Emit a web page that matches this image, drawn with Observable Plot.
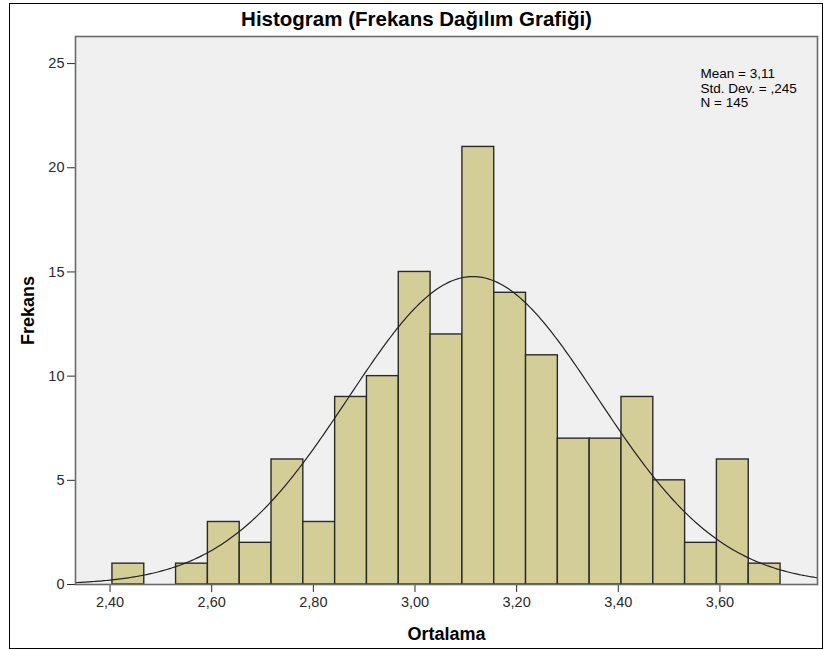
<!DOCTYPE html>
<html><head><meta charset="utf-8">
<script src="https://cdn.jsdelivr.net/npm/d3@7"></script>
<script src="https://cdn.jsdelivr.net/npm/@observablehq/plot@0.6"></script>
<style>
body{margin:0;background:#fff;}
#wrap{position:relative;width:824px;height:650px;overflow:hidden;}
#border{position:absolute;left:9px;top:3px;width:814px;height:646px;border:1px solid #000;box-sizing:border-box;pointer-events:none;z-index:2}
#wrap svg{position:absolute;left:0;top:0;}
</style></head><body><div id="wrap"><div id="border"></div></div>
<script>
// Histogram bin counts (21 equal-width bins)
const counts = [1,0,1,3,2,6,3,9,10,15,12,21,14,11,7,7,9,5,2,6,1];
const binStart = 2.4047;
const binWidth = 0.0626;
const xTicks = [2.4, 2.6, 2.8, 3.0, 3.2, 3.4, 3.6];
const yTicks = [0, 5, 10, 15, 20, 25];
const statsLines = ["Mean = 3,11", "Std. Dev. = ,245", "N = 145"];
const titleText = "Histogram (Frekans Dağılım Grafiği)";
const xLabel = "Ortalama";
const yLabel = "Frekans";
// Normal curve parameters (from the stats box)
const mean = 3.114, sd = 0.245, n = 145;
const xDomain = [2.332, 3.792];
const yDomain = [0, 26.3];

const bins = counts.map((c, i) => ({x1: binStart + i * binWidth, x2: binStart + (i + 1) * binWidth, count: c}));
const curve = d3.range(xDomain[0], xDomain[1] + 1e-9, 0.004).map(x => ({
  x, y: n * binWidth * Math.exp(-0.5 * ((x - mean) / sd) ** 2) / (sd * Math.sqrt(2 * Math.PI))
}));

const chart = Plot.plot({
  width: 824, height: 650,
  marginLeft: 75, marginRight: 7, marginTop: 36, marginBottom: 66,
  style: {fontFamily: "'Liberation Sans', Arial, sans-serif", fontSize: "14.5px", color: "#2a2a2a", background: "transparent"},
  x: {domain: xDomain, ticks: xTicks, tickFormat: d => d.toFixed(2).replace(".", ","), tickSize: 8, tickPadding: 4, label: null},
  y: {domain: yDomain, ticks: yTicks, tickSize: 8, tickPadding: 3, label: null},
  marks: [
    Plot.frame({fill: "#F0F0F0"}),
    Plot.rectY(bins, {x1: "x1", x2: "x2", y: "count", fill: "#D3CE97", stroke: "#2a2a2a", strokeWidth: 1.4}),
    Plot.line(curve, {x: "x", y: "y", stroke: "#222", strokeWidth: 1.2}),
    Plot.frame({stroke: "#6a6a6a", strokeWidth: 1.6}),
    Plot.text([titleText], {frameAnchor: "top", lineAnchor: "middle", dx: -30, dy: -17, fontSize: 20.5, fontWeight: "bold", fill: "#000"}),
    Plot.text([yLabel], {frameAnchor: "left", textAnchor: "middle", lineAnchor: "middle", dx: -47, rotate: -90, fontSize: 18, fontWeight: "bold", fill: "#000"}),
    Plot.text([xLabel], {frameAnchor: "bottom", lineAnchor: "middle", dy: 50, fontSize: 18, fontWeight: "bold", fill: "#000"}),
    Plot.text([statsLines.join("\n")], {frameAnchor: "top-right", dx: -117, dy: 32, textAnchor: "start", lineAnchor: "top", lineHeight: 1.04, fontSize: 13.5, fill: "#000"})
  ]
});
document.getElementById("wrap").appendChild(chart);
</script>
</body></html>
